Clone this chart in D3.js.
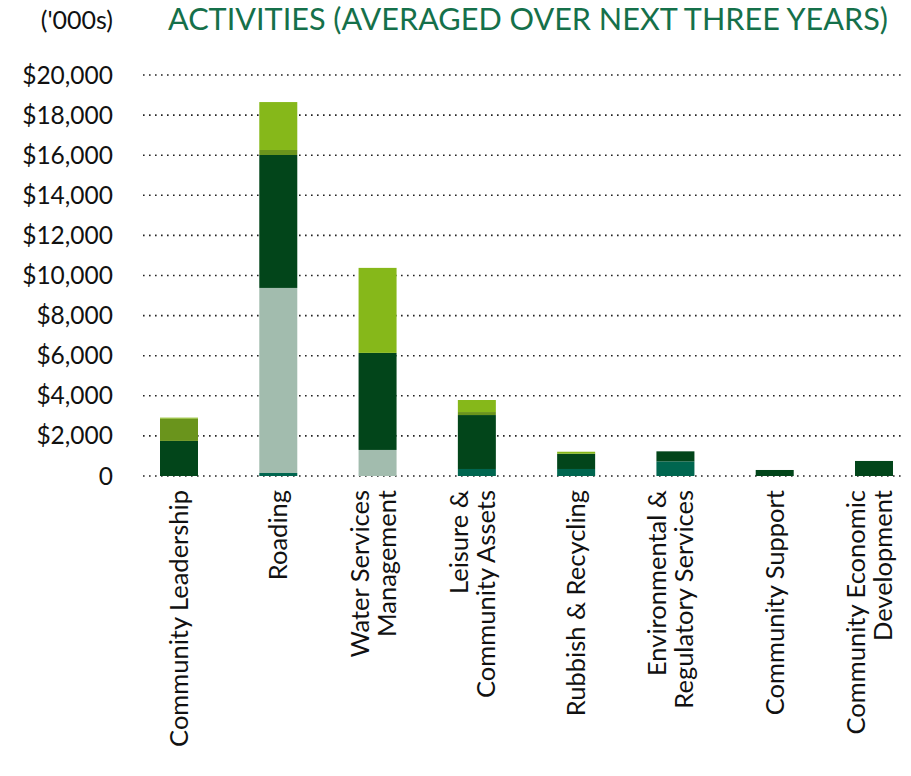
<!DOCTYPE html>
<html>
<head>
<meta charset="utf-8">
<script src="https://cdn.jsdelivr.net/npm/d3@7"></script>
<style>
  html, body { margin: 0; padding: 0; background: #fff; }
  svg { display: block; font-family: Lato, 'Open Sans', sans-serif; }
</style>
</head>
<body>
<svg id="chart"></svg>
<script>
(function() {

  // values in $000s, averaged over next three years
  var categories = [
    'Community Leadership',
    'Roading',
    'Water Services|Management',
    'Leisure &|Community Assets',
    'Rubbish & Recycling',
    'Environmental &|Regulatory Services',
    'Community Support',
    'Community Economic|Development'
  ];
  var seriesNames = ['s1', 's2', 's3', 's4', 's5'];
  var s1 = [0, 150, 0, 350, 350, 730, 0, 0];
  var s2 = [0, 9230, 1300, 0, 0, 0, 0, 0];
  var s3 = [1750, 6630, 4840, 2690, 760, 500, 300, 750];
  var s4 = [1110, 250, 0, 150, 0, 0, 0, 0];
  var s5 = [50, 2390, 4240, 600, 100, 0, 0, 0];
  var yTicks = [0, 2000, 4000, 6000, 8000, 10000, 12000, 14000, 16000, 18000, 20000];

  var colors = ['#00664f', '#a2bcae', '#02451a', '#6a941c', '#86b81a'];

  var WIDTH = 911, HEIGHT = 776;
  var svg = d3.select('#chart').attr('width', WIDTH).attr('height', HEIGHT);

  var rows = categories.map(function(c, i) {
    return { cat: c, s1: s1[i], s2: s2[i], s3: s3[i], s4: s4[i], s5: s5[i] };
  });
  var stacked = d3.stack().keys(seriesNames)(rows);

  var x = d3.scalePoint().domain(categories).range([179, 874]);
  var y = d3.scaleLinear().domain([0, 20000]).range([476, 75]);
  var barW = 38;

  // header
  svg.append('text')
    .attr('x', 113).attr('y', 29)
    .attr('text-anchor', 'end')
    .style('font-size', '25px')
    .style('fill', '#111')
    .text("('000s)");

  svg.append('text')
    .attr('x', 168).attr('y', 30)
    .attr('textLength', 720)
    .attr('lengthAdjust', 'spacingAndGlyphs')
    .style('font-size', '31px')
    .style('fill', '#15704a')
    .text('ACTIVITIES (AVERAGED OVER NEXT THREE YEARS)');

  // dotted grid
  svg.append('g').selectAll('line')
    .data(yTicks)
    .join('line')
    .attr('x1', 143).attr('x2', 904)
    .attr('y1', function(d) { return y(d); })
    .attr('y2', function(d) { return y(d); })
    .attr('stroke', '#222')
    .attr('stroke-width', 1.6)
    .attr('stroke-dasharray', '1.6 4.4');

  var fmt = d3.format('$,');
  svg.append('g').selectAll('text')
    .data(yTicks)
    .join('text')
    .attr('x', 113)
    .attr('y', function(d) { return y(d); })
    .attr('dy', '0.35em')
    .attr('text-anchor', 'end')
    .style('font-size', '24.5px')
    .style('fill', '#111')
    .text(function(d) { return d === 0 ? '0' : fmt(d); });

  // stacked bars
  svg.append('g').selectAll('g')
    .data(stacked)
    .join('g')
    .attr('fill', function(d, i) { return colors[i]; })
    .selectAll('rect')
    .data(function(d) { return d; })
    .join('rect')
    .attr('x', function(d) { return x(d.data.cat) - barW / 2; })
    .attr('width', barW)
    .attr('y', function(d) { return y(d[1]); })
    .attr('height', function(d) { return y(d[0]) - y(d[1]); });

  // rotated category labels
  var labels = svg.append('g').selectAll('text')
    .data(categories)
    .join('text')
    .attr('transform', function(d) { return 'translate(' + x(d) + ',490) rotate(-90)'; })
    .attr('text-anchor', 'end')
    .style('font-size', '25.5px')
    .style('fill', '#111');

  labels.each(function(d) {
    var lines = d.split('|');
    var t = d3.select(this);
    lines.forEach(function(line, i) {
      t.append('tspan')
        .attr('x', 0)
        .attr('y', 9 - (lines.length - 1) * 18 + i * 27)
        .text(line);
    });
  });

})();
</script>
</body>
</html>
